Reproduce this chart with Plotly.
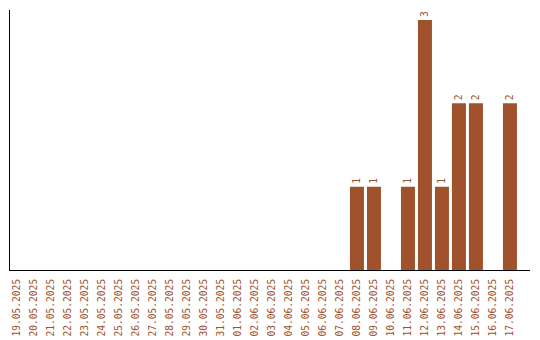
import plotly.graph_objects as go

dates = ["19.05.2025", "20.05.2025", "21.05.2025", "22.05.2025", "23.05.2025",
         "24.05.2025", "25.05.2025", "26.05.2025", "27.05.2025", "28.05.2025",
         "29.05.2025", "30.05.2025", "31.05.2025", "01.06.2025", "02.06.2025",
         "03.06.2025", "04.06.2025", "05.06.2025", "06.06.2025", "07.06.2025",
         "08.06.2025", "09.06.2025", "10.06.2025", "11.06.2025", "12.06.2025",
         "13.06.2025", "14.06.2025", "15.06.2025", "16.06.2025", "17.06.2025"]
counts = [0, 0, 0, 0, 0, 0, 0, 0, 0, 0,
          0, 0, 0, 0, 0, 0, 0, 0, 0, 0,
          1, 1, 0, 1, 3, 1, 2, 2, 0, 2]

COLOR = "#A0522D"
labels = [str(v) if v > 0 else "" for v in counts]

fig = go.Figure(go.Bar(
    x=dates, y=counts, marker=dict(color=COLOR, line=dict(width=0)),
    text=labels, textposition="outside", textangle=-90,
    textfont=dict(family="DejaVu Sans Mono", size=9.6, color=COLOR),
    cliponaxis=False,
))

fig.update_layout(
    width=540, height=340,
    margin=dict(l=10, r=10, t=10, b=70),
    paper_bgcolor="white", plot_bgcolor="white",
    bargap=3/17,
    showlegend=False,
    xaxis=dict(
        type="category", range=[-0.41, 30.18], automargin=False,
        showgrid=False, zeroline=False,
        showline=True, linecolor="black", linewidth=1,
        ticks="", tickangle=-90, ticklabelstandoff=4,
        tickfont=dict(family="DejaVu Sans Mono", size=9.6, color=COLOR),
    ),
    yaxis=dict(
        range=[0, 3.12], showgrid=False, zeroline=False, automargin=False,
        showline=True, linecolor="black", linewidth=1,
        showticklabels=False, ticks="",
    ),
)

fig.write_html("out.html")
